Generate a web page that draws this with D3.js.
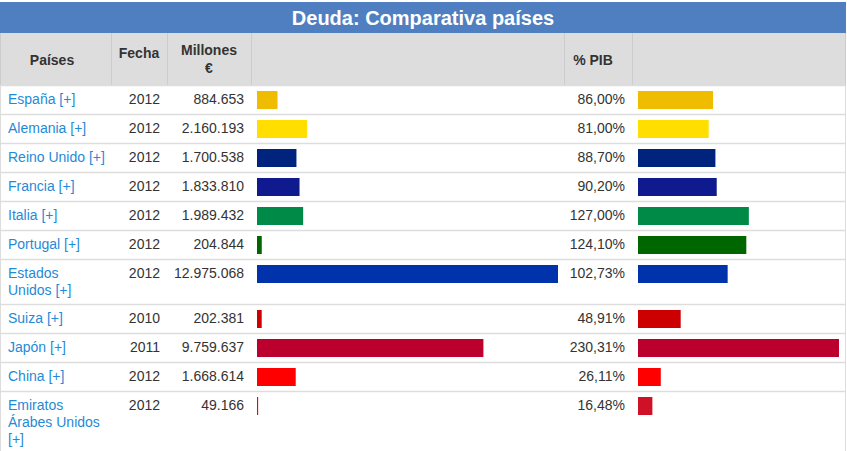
<!DOCTYPE html>
<html>
<head>
<meta charset="utf-8">
<script src="https://cdn.jsdelivr.net/npm/d3@7"></script>
<style>
    body { margin: 0; background: #fff; }
    svg { display: block; font-family: "Liberation Sans", Arial, sans-serif; }
</style>
</head>
<body>
<svg id="chart" width="847" height="451"></svg>
<script>
const titulo = "Deuda: Comparativa países";
const paises = ["España", "Alemania", "Reino Unido", "Francia", "Italia", "Portugal",
    "Estados Unidos", "Suiza", "Japón", "China", "Emiratos Árabes Unidos"];
const fechas = [2012, 2012, 2012, 2012, 2012, 2012, 2012, 2010, 2011, 2012, 2012];
const millones = [884653, 2160193, 1700538, 1833810, 1989432, 204844, 12975068,
    202381, 9759637, 1668614, 49166];
const pib = [86.00, 81.00, 88.70, 90.20, 127.00, 124.10, 102.73, 48.91, 230.31, 26.11, 16.48];
const colores = ["#f0bc00", "#ffde00", "#00247d", "#101a8f", "#008a47", "#006600",
    "#0033ab", "#cc0000", "#bc002d", "#ff0000", "#ce1126"];

// column edges of the table
const cols = [0, 111, 167, 251, 564, 632, 846];
const pad = 7;
const lineH = 17;

const es = d3.formatLocale({ decimal: ",", thousands: ".", grouping: [3], currency: ["", " €"] });
const fmtMill = es.format(",d");
const fmtPib = es.format(",.2f");

const svg = d3.select("#chart");

// title bar
svg.append("rect")
    .attr("x", 0).attr("y", 2)
    .attr("width", cols[6]).attr("height", 31)
    .attr("fill", "#4f7fc0");
svg.append("text")
    .attr("x", cols[6] / 2).attr("y", 24.5)
    .attr("text-anchor", "middle")
    .attr("fill", "#fff")
    .attr("font-size", 20)
    .attr("font-weight", "bold")
    .text(titulo);

// header row
const headTop = 33, headBottom = 85;
svg.append("rect")
    .attr("x", 0).attr("y", headTop)
    .attr("width", cols[6]).attr("height", headBottom - headTop)
    .attr("fill", "#dddddd");

svg.selectAll(".col-sep")
    .data(cols)
    .enter().append("line")
    .attr("class", "col-sep")
    .attr("x1", d => Math.min(d + 0.5, 845.5)).attr("x2", d => Math.min(d + 0.5, 845.5))
    .attr("y1", headTop).attr("y2", headBottom)
    .attr("stroke", "#cccccc");

const headers = [
    { x: 52, lines: ["Países"], y: 64.5 },
    { x: 139, lines: ["Fecha"], y: 58 },
    { x: 209, lines: ["Millones", "€"], y: 54.5 },
    { x: 593, lines: ["% PIB"], y: 64.5 }
];
headers.forEach(h => {
    const t = svg.append("text")
        .attr("text-anchor", "middle")
        .attr("font-size", 14)
        .attr("font-weight", "bold")
        .attr("fill", "#333");
    h.lines.forEach((l, i) => {
        t.append("tspan").attr("x", h.x).attr("y", h.y + i * 18.5).text(l);
    });
});

// wrap the country names to the first column
const maxW = 97.6;
const meas = svg.append("text").attr("font-size", 14).attr("visibility", "hidden");
function wrap(str) {
    const words = (str + " [+]").split(" ");
    const out = [];
    let cur = "";
    words.forEach(w => {
        const test = cur ? cur + " " + w : w;
        meas.text(test);
        if (cur && meas.node().getComputedTextLength() > maxW) {
            out.push(cur);
            cur = w;
        } else {
            cur = test;
        }
    });
    out.push(cur);
    return out;
}
const etiquetas = paises.map(wrap);
meas.remove();

// row layout
const rows = [];
let yPos = headBottom;
paises.forEach((p, i) => {
    const h = 29 + 16 * (etiquetas[i].length - 1);
    rows.push({ i, top: yPos, h });
    yPos += h;
});

const xMill = d3.scaleLinear().domain([0, d3.max(millones)]).range([0, 301]);
const xPib = d3.scaleLinear().domain([0, d3.max(pib)]).range([0, 201]);

// outer borders
svg.append("line")
    .attr("x1", 0.5).attr("x2", 0.5).attr("y1", headBottom).attr("y2", 451)
    .attr("stroke", "#dddddd");
svg.append("line")
    .attr("x1", 845.5).attr("x2", 845.5).attr("y1", headBottom).attr("y2", 451)
    .attr("stroke", "#dddddd");

const row = svg.selectAll(".row")
    .data(rows)
    .enter().append("g")
    .attr("class", "row")
    .attr("transform", d => `translate(0,${d.top})`);

row.append("line")
    .attr("x1", 0).attr("x2", cols[6])
    .attr("y1", 0.5).attr("y2", 0.5)
    .attr("stroke", "#dddddd")
    .attr("stroke-width", 1.5);

row.append("text")
    .attr("font-size", 14)
    .attr("fill", "#1f8ad6")
    .each(function(d) {
        const t = d3.select(this);
        etiquetas[d.i].forEach((l, k) => {
            t.append("tspan").attr("x", cols[0] + pad + 1).attr("y", 19.3 + k * lineH).text(l);
        });
    });

row.append("text")
    .attr("x", cols[2] - pad).attr("y", 19.3)
    .attr("text-anchor", "end")
    .attr("font-size", 14)
    .attr("fill", "#333")
    .text(d => fechas[d.i]);

row.append("text")
    .attr("x", cols[3] - pad).attr("y", 19.3)
    .attr("text-anchor", "end")
    .attr("font-size", 14)
    .attr("fill", "#333")
    .text(d => fmtMill(millones[d.i]));

row.append("rect")
    .attr("x", cols[3] + 6).attr("y", 6)
    .attr("width", d => xMill(millones[d.i]))
    .attr("height", 18)
    .attr("fill", d => colores[d.i]);

row.append("text")
    .attr("x", cols[5] - pad).attr("y", 19.3)
    .attr("text-anchor", "end")
    .attr("font-size", 14)
    .attr("fill", "#333")
    .text(d => fmtPib(pib[d.i]) + "%");

row.append("rect")
    .attr("x", cols[5] + 6).attr("y", 6)
    .attr("width", d => xPib(pib[d.i]))
    .attr("height", 18)
    .attr("fill", d => colores[d.i]);
</script>
</body>
</html>
